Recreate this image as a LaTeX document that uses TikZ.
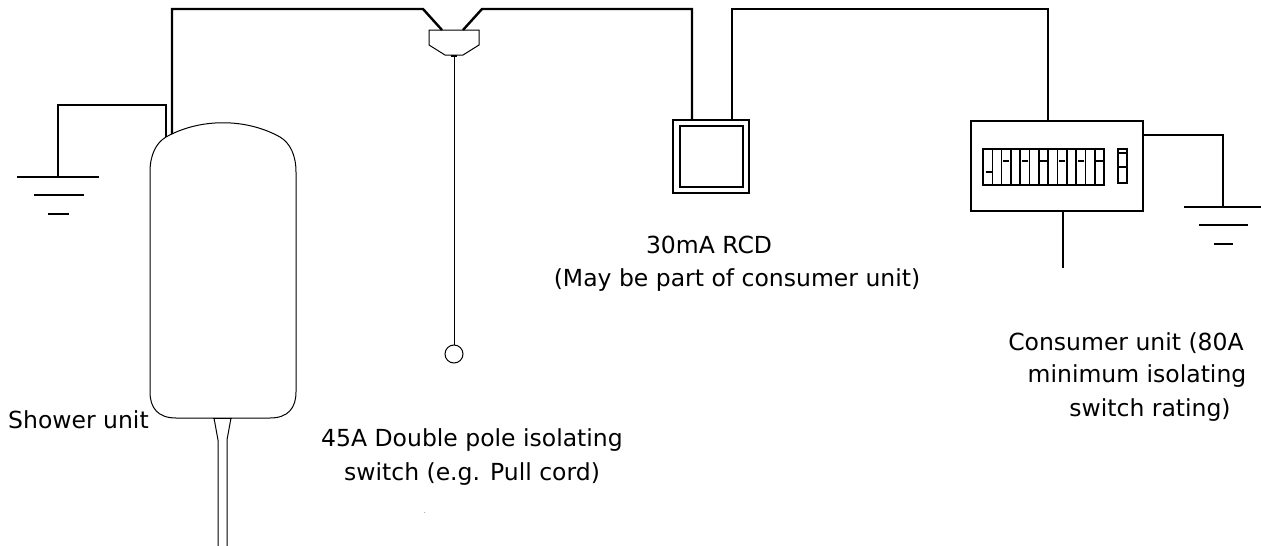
\documentclass[tikz,border=0pt]{standalone}
\usepackage{fontspec}
\setmainfont{DejaVu Sans}
\begin{document}
\begin{tikzpicture}[x=1pt,y=-1pt,
  wire/.style={line width=2.4pt},
  outline/.style={line width=1pt},
  box/.style={draw, line width=2pt, inner sep=0pt},
  lbl/.style={font=\fontsize{23.5}{34}\selectfont, inner sep=0pt, align=center}]
\useasboundingbox (0,0) rectangle (1261,546);
% shower unit
\draw[outline] (150,392) -- (150,172) .. controls (150,155) and (156,143) .. (166,137)
  .. controls (200,118) and (246,118) .. (280,137)
  .. controls (290,143) and (296,155) .. (296,172) -- (296,392)
  .. controls (296,408) and (288,418) .. (270,418) -- (176,418)
  .. controls (158,418) and (150,408) .. (150,392);
\coordinate (S1) at (166,137);
\coordinate (S2) at (172,134);
\draw[outline] (213,418) -- (232,418);
\draw[outline] (214,418) -- (218,440) -- (218,546);
\draw[outline] (231,418) -- (227,440) -- (227,546);
% pull switch
\draw[outline] (429,30) -- (479,30) -- (479,45) -- (463,55) -- (445,55) -- (429,45) -- cycle;
\draw[line width=2pt] (451,56) -- (457,56);
\coordinate (P1) at (442,30);
\coordinate (P2) at (463,30);
\node[draw, circle, minimum size=18pt, inner sep=0pt, outline] (C) at (454,354) {};
\draw[outline] (454,57) -- (C);
% RCD
\node[box, minimum width=76pt, minimum height=73pt] (R) at (711,156.5) {};
\node[box, minimum width=63pt, minimum height=61pt] (Ri) at (711,156.5) {};
% consumer unit
\node[box, line width=1.6pt, minimum width=172pt, minimum height=90pt] (U) at (1057,166) {};
\draw[line width=1.6pt] (983,149) rectangle (1104,185);
\foreach \i in {1,...,12}
  \draw[line width=1.6pt] (983+\i*9.31,149) -- (983+\i*9.31,185);
\draw[line width=2.6pt] (985.5,172) -- (993,172);
\foreach \i in {2,4,...,12}
  \draw[line width=2.6pt] (983+\i*9.31+1.5,161) -- (983+\i*9.31+7.8,161);
\draw[line width=1.6pt] (1118,149) rectangle (1127,183);
\draw[line width=2.6pt] (1118,153) -- (1127,153);
\draw[line width=2.6pt] (1118,167) -- (1127,167);
% earths
\coordinate (G1) at (58,177);
\coordinate (G2) at (1223,207);
\draw[wire] (17,177) -- (99,177);
\draw[wire] (34,195) -- (84,195);
\draw[wire] (48,214) -- (69,214);
\draw[wire] (1184,207) -- (1261,207);
\draw[wire] (1199,225) -- (1248,225);
\draw[wire] (1214,244) -- (1233,244);
% wiring
\draw[wire] (G1) -- (58,105) -- (166,105) -- (S1);
\draw[wire] (S2) -- (172,9) -- (423,9) -- (P1);
\draw[wire] (P2) -- (482,9) -- (692,9) -- (692,120);
\draw[wire] (732,120) -- (732,9) -- (1048,9) -- (1048,121);
\draw[wire] (1143,135) -- (1223,135) -- (G2);
\draw[wire] (1063,211) -- (1063,268);
% labels
\node[lbl, anchor=west] (tS) at (8,420) {Shower unit};
\node[lbl] (tP) at (472,457) {45A Double pole isolating\\switch (e.g. Pull cord)};
\node[lbl] (tR1) at (709,245) {30mA RCD};
\node[lbl] (tR2) at (737,280) {(May be part of consumer unit)};
\node[lbl] (tU1) at (1126,343) {Consumer unit (80A};
\node[lbl] (tU2) at (1137,376) {minimum isolating};
\node[lbl] (tU3) at (1150,410) {switch rating)};
\node[font=\tiny, inner sep=0pt] (dot) at (425,513) {.};
\end{tikzpicture}
\end{document}
